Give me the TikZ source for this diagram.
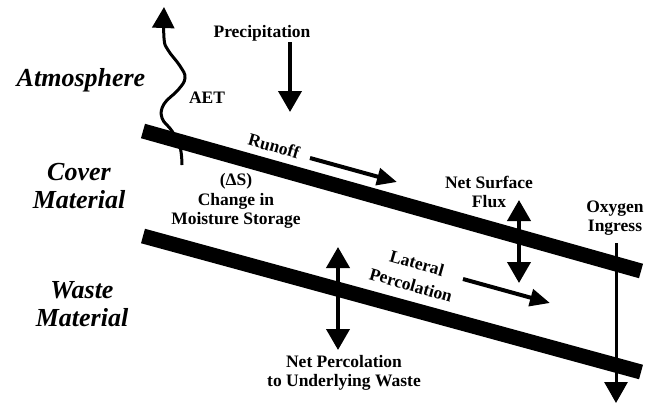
\documentclass[tikz,border=0pt]{standalone}
\usepackage{fontspec}
\setmainfont{Liberation Serif}
\usetikzlibrary{arrows.meta, positioning}

\begin{document}
\begin{tikzpicture}[x=1pt, y=-1pt,
		lbl/.style={font=\fontsize{17.5}{19.5}\selectfont\bfseries, align=center},
		zone/.style={font=\fontsize{26}{28}\selectfont\bfseries\itshape, align=center},
		layer/.style={line width=15pt},
		flow/.style={line width=4pt, -{Triangle[length=21pt, width=23pt]}},
		both/.style={line width=4pt, {Triangle[length=21pt, width=23pt]}-{Triangle[length=21pt, width=23pt]}},
		slide/.style={line width=4pt, -{Triangle[length=20pt, width=17pt]}}]
				\useasboundingbox (0,0) rectangle (655,405);
				
				% the two sloping layers
				\draw[layer] (143,131)--(641,271);
				\draw[layer] (143,236)--(641,372);
				
				% evapotranspiration
				\draw[line width=3pt, -{Triangle[length=21pt, width=22pt]}]
				plot[smooth, tension=0.7] coordinates {(182,165) (180,147) (172,131) (162,118) (164,104) (178,90) (185,78) (180,66) (168,50) (164,38) (164,7)};
				
				\draw[flow] (290,42)--(290,112);
				\draw[slide] (310,158)--(397,182);
				\draw[both] (519,200)--(519,283);
				\draw[both] (338,247)--(338,350);
				\draw[slide] (463,279)--(550,303);
				\draw[line width=3pt, -{Triangle[length=21pt, width=23pt]}] (616,243)--(616,403);
				
				\node[zone] (atmo) at (81,80) {Atmosphere};
				\node[zone] (cover) at (79,186) {Cover\\Material};
				\node[zone] (waste) at (82,304) {Waste\\Material};
				
				\node[lbl] (precip) at (262,33) {Precipitation};
				\node[lbl] (aet) at (207,98) {AET};
				\node[lbl, rotate=-16, inner sep=0pt] (runoff) at (274,146) {Runoff};
				\node[lbl] (storage) at (236,201) {(ΔS)\\Change in\\Moisture Storage};
				\node[lbl] (surf) at (489,192) {Net Surface\\Flux};
				\node[lbl] (oxy) at (615,218) {Oxygen\\Ingress};
				\node[lbl, rotate=-16, inner sep=0pt] (lat) at (417,263) {Lateral};
				\node[lbl, rotate=-16, inner sep=0pt] (perc) at (411,285) {Percolation};
				\node[lbl] (netperc) at (344,373) {Net Percolation\\to Underlying Waste};
			\end{tikzpicture}
\end{document}
